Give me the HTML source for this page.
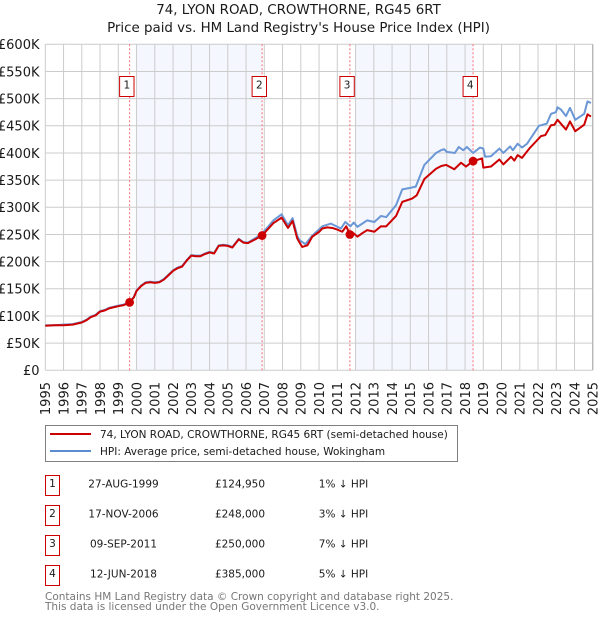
<!DOCTYPE html>
<html>
<head>
<meta charset="utf-8">
<style>
html,body{margin:0;padding:0;background:#fff}
svg{display:block}
text{font-family:"DejaVu Sans",sans-serif;fill:#1a1a1a}
</style>
</head>
<body>
<svg id="chart" width="600" height="620" viewBox="0 0 600 620" xmlns="http://www.w3.org/2000/svg">
<rect x="0" y="0" width="600" height="620" fill="#fff"/>
<text x="298.5" y="14" font-size="13.4" text-anchor="middle">74, LYON ROAD, CROWTHORNE, RG45 6RT</text>
<text x="298.5" y="32" font-size="13.4" text-anchor="middle">Price paid vs. HM Land Registry's House Price Index (HPI)</text>
<g id="bands"></g>
<g id="grid"></g>
<g id="axes"></g>
<g id="vlines"></g>
<g id="series"></g>
<g id="flags"></g>

<g>
<rect x="45.5" y="425.5" width="412" height="36" fill="#fff" stroke="#808080" stroke-width="1"/>
<line x1="50" x2="91" y1="434" y2="434" stroke="#cc0000" stroke-width="2"/>
<text x="100" y="438" font-size="10.5">74, LYON ROAD, CROWTHORNE, RG45 6RT (semi-detached house)</text>
<line x1="50" x2="91" y1="451" y2="451" stroke="#5b8bd0" stroke-width="2"/>
<text x="100" y="455" font-size="10.5">HPI: Average price, semi-detached house, Wokingham</text>
</g>
<g id="table"></g>
<text x="45" y="600" font-size="10.5" style="fill:#777">Contains HM Land Registry data © Crown copyright and database right 2025.</text>
<text x="45" y="610" font-size="10.5" style="fill:#777">This data is licensed under the Open Government Licence v3.0.</text>
</svg>
<script>
const yearTicks = [1995,1996,1997,1998,1999,2000,2001,2002,2003,2004,2005,2006,2007,2008,2009,2010,2011,2012,2013,2014,2015,2016,2017,2018,2019,2020,2021,2022,2023,2024,2025];
const valueTicks = [0,50,100,150,200,250,300,350,400,450,500,550,600];
const valueLabels = ['£0','£50K','£100K','£150K','£200K','£250K','£300K','£350K','£400K','£450K','£500K','£550K','£600K'];

const priceYears = [1995,1995.5,1996,1996.5,1997,1997.25,1997.5,1997.75,1998,1998.25,1998.5,1998.75,1999,1999.3,1999.62,1999.85,2000,2000.25,2000.5,2000.75,2001,2001.25,2001.5,2001.75,2002,2002.25,2002.5,2002.75,2003,2003.25,2003.5,2003.75,2004,2004.25,2004.5,2004.75,2005,2005.25,2005.6,2005.85,2006.1,2006.5,2006.88,2007.2,2007.5,2007.95,2008.3,2008.55,2008.8,2008.92,2009.08,2009.36,2009.63,2010.01,2010.18,2010.45,2010.73,2011.0,2011.27,2011.49,2011.69,2011.9,2012.1,2012.4,2012.64,2013.03,2013.39,2013.68,2014.22,2014.56,2015.1,2015.35,2015.77,2016.41,2016.7,2016.96,2017.41,2017.78,2018.05,2018.44,2018.93,2019.0,2019.42,2019.88,2020.1,2020.52,2020.7,2020.88,2021.12,2021.52,2022.16,2022.4,2022.71,2022.9,2023.07,2023.53,2023.75,2024.04,2024.53,2024.71,2024.9];
const priceValues = [82,83,83,84,88,92,98,101,108,110,114,116,118,120,125,134,146,155,161,162,161,162,167,175,183,188,191,202,211,210,210,214,217,215,229,230,229,226,241,235,234,241,248,260,271,281,262,275,243,236,227,230,246,255,261,263,262,259,255,265,250,252,246,253,258,255,265,265,284,310,316,322,352,371,376,378,370,382,375,385,390,373,375,388,379,393,386,396,391,408,431,433,451,452,461,443,458,440,452,471,467];

const hpiYears = [1995,1995.5,1996,1996.5,1997,1997.25,1997.5,1997.75,1998,1998.25,1998.5,1998.75,1999,1999.3,1999.62,1999.85,2000,2000.25,2000.5,2000.75,2001,2001.25,2001.5,2001.75,2002,2002.25,2002.5,2002.75,2003,2003.25,2003.5,2003.75,2004,2004.25,2004.5,2004.75,2005,2005.25,2005.6,2005.85,2006.1,2006.5,2006.88,2007.2,2007.5,2007.95,2008.3,2008.55,2008.8,2008.92,2009.25,2009.63,2010.18,2010.65,2011.2,2011.44,2011.72,2011.9,2012.1,2012.64,2013.03,2013.39,2013.68,2014.22,2014.56,2015.03,2015.3,2015.77,2016.41,2016.68,2016.85,2017.0,2017.44,2017.66,2017.9,2018.1,2018.44,2018.82,2019.0,2019.1,2019.42,2019.88,2020.1,2020.47,2020.62,2020.88,2021.12,2021.4,2022.05,2022.48,2022.71,2022.98,2023.07,2023.25,2023.53,2023.75,2024.04,2024.53,2024.71,2024.9];
const hpiValues = [83,83,84,85,89,93,99,102,109,111,115,117,119,121,126,135,147,156,162,163,162,163,168,176,184,189,192,203,212,211,211,215,218,216,230,231,230,227,242,236,235,243,252,264,276,287,267,280,248,240,232,248,265,270,261,273,265,272,264,276,273,284,282,304,333,336,338,378,400,405,407,402,400,411,405,411,400,410,408,393,394,408,400,412,405,417,410,417,450,454,472,475,484,480,468,483,461,472,495,492];

const saleYears = [1999.62,2006.88,2011.69,2018.44];
const saleValues = [124.95,248,250,385];
const saleNumbers = ['1','2','3','4'];
const saleDates = ['27-AUG-1999','17-NOV-2006','09-SEP-2011','12-JUN-2018'];
const salePrices = ['£124,950','£248,000','£250,000','£385,000'];
const saleDiffs = ['1% ↓ HPI','3% ↓ HPI','7% ↓ HPI','5% ↓ HPI'];
const bandStarts = [2000,2012];
const bandEnds = [2006.88,2018.44];

const NS = 'http://www.w3.org/2000/svg';
const X = y => 45.3 + (y - 1995) * 18.25;
const Y = v => 370.3 - v * 326 / 600;
function mk(parent, tag, attrs, txt){
  const el = document.createElementNS(NS, tag);
  for (const k in attrs) el.setAttribute(k, attrs[k]);
  if (txt !== undefined) el.textContent = txt;
  parent.appendChild(el);
  return el;
}
const bandsG = document.getElementById('bands');
const gridG = document.getElementById('grid');
const axesG = document.getElementById('axes');
const vG = document.getElementById('vlines');
const seriesG = document.getElementById('series');
const flagsG = document.getElementById('flags');
const tableG = document.getElementById('table');

bandStarts.forEach((s, i) => {
  const el = mk(bandsG, 'rect', {x:X(s), y:Y(600), width:X(bandEnds[i])-X(s), height:Y(0)-Y(600), fill:'#f4f7fe'});
  
  
});
yearTicks.forEach(t => {
  const l = mk(gridG, 'line', {x1:X(t), x2:X(t), y1:Y(600), y2:Y(0), stroke: t===2025 ? '#999' : '#cccccc', 'stroke-width':1});
  
  
  const lab = mk(axesG, 'text', {x:0, y:0, 'font-size':13, 'text-anchor':'end', transform:`translate(${X(t)+4.7},382) rotate(-90)`}, String(t));
  
  
});
valueTicks.forEach((v, i) => {
  const l = mk(gridG, 'line', {x1:X(1995), x2:X(2025), y1:Y(v), y2:Y(v), stroke:'#cccccc', 'stroke-width':1});
  
  
  const lab = mk(axesG, 'text', {x:39.5, y:Y(v)+4.8, 'font-size':13, 'text-anchor':'end'}, valueLabels[i]);
  
  
});
saleYears.forEach(s => {
  const l = mk(vG, 'line', {x1:X(s), x2:X(s), y1:Y(600), y2:Y(0), stroke:'#ff6a75', 'stroke-width':1, 'stroke-dasharray':'2 2'});
  
  
});
const hpiLine = mk(seriesG, 'polyline', {points:hpiYears.map((y,i)=>X(y)+','+Y(hpiValues[i])).join(' '), fill:'none', stroke:'#6b97d6', 'stroke-width':2, 'stroke-linejoin':'round'});


const priceLine = mk(seriesG, 'polyline', {points:priceYears.map((y,i)=>X(y)+','+Y(priceValues[i])).join(' '), fill:'none', stroke:'#cc0000', 'stroke-width':2, 'stroke-linejoin':'round'});


saleYears.forEach((s, i) => {
  const c = mk(seriesG, 'circle', {cx:X(s), cy:Y(saleValues[i]), r:4.4, fill:'#cc0000'});
  
  
  const r = mk(flagsG, 'rect', {x:X(s)-10, y:76.5, width:14.4, height:20, fill:'#fff', stroke:'#cc0000', 'stroke-width':1});
  
  
  const t = mk(flagsG, 'text', {x:X(s)-2.8, y:88.5, 'font-size':10.5, 'text-anchor':'middle'}, saleNumbers[i]);
  
  
});
saleNumbers.forEach((n, i) => {
  const top = 475.5 + i * 30;
  const r = mk(tableG, 'rect', {x:45.5, y:top, width:14, height:20, fill:'#fff', stroke:'#cc0000', 'stroke-width':1});
  
  
  const a = mk(tableG, 'text', {x:52.5, y:top+11.5, 'font-size':10.5, 'text-anchor':'middle'}, n);
  
  
  const b = mk(tableG, 'text', {x:123.5, y:top+12, 'font-size':10.5, 'text-anchor':'middle'}, saleDates[i]);
  
  
  const c = mk(tableG, 'text', {x:240, y:top+12, 'font-size':10.5, 'text-anchor':'middle'}, salePrices[i]);
  
  
  const d = mk(tableG, 'text', {x:343.5, y:top+12, 'font-size':10.5, 'text-anchor':'middle'}, saleDiffs[i]);
  
  
});
</script>
</body>
</html>
